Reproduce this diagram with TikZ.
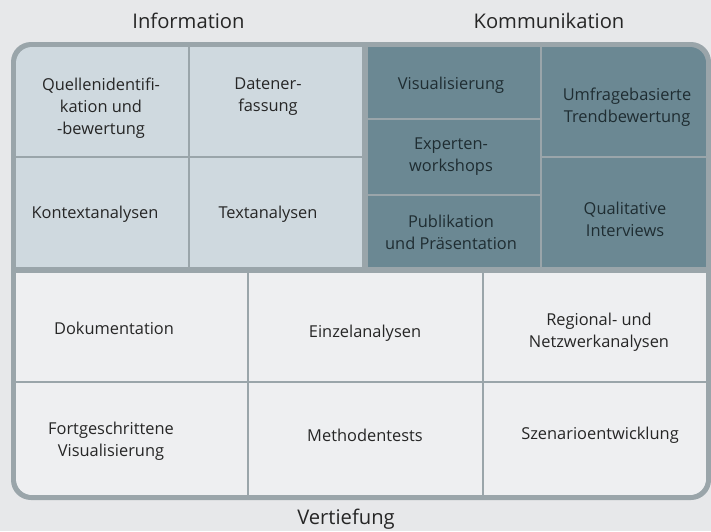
\documentclass[tikz,border=0pt]{standalone}
\usepackage{fontspec}
\setmainfont{Open Sans}
\usetikzlibrary{positioning}
\definecolor{bggray}{HTML}{E7E8EA}
\definecolor{framegray}{HTML}{9AA5AA}
\definecolor{infofill}{HTML}{CFD9DF}
\definecolor{kommfill}{HTML}{6B8893}
\definecolor{tieffill}{HTML}{EEEFF1}
\definecolor{textgray}{HTML}{262626}
\definecolor{darktext}{HTML}{1F2D32}
\begin{document}
\begin{tikzpicture}[x=1pt,y=-1pt,
  txt/.style={align=center,font=\fontsize{16.4}{22}\selectfont,text=textgray,inner sep=0pt},
  ktxt/.style={txt,text=darktext},
  head/.style={font=\fontsize{20.2}{22}\selectfont,text=textgray,inner sep=0pt}]
\fill[bggray] (0,0) rectangle (711,531);
\useasboundingbox (0,0) rectangle (711,531);
% frame and cells
\fill[framegray,rounded corners=20pt] (11,42) rectangle (711,500);
\begin{scope}
\clip[rounded corners=16pt] (16,47) rectangle (706,495);
% Information
\fill[infofill] (16,47) rectangle (188,156);
\fill[infofill] (190,47) rectangle (362,156);
\fill[infofill] (16,158) rectangle (188,267);
\fill[infofill] (190,158) rectangle (362,267);
% Kommunikation
\fill[kommfill] (368,47) rectangle (540,118);
\fill[kommfill] (368,120) rectangle (540,194);
\fill[kommfill] (368,196) rectangle (540,267);
\fill[kommfill] (542,47) rectangle (706,156);
\fill[kommfill] (542,158) rectangle (706,267);
% Vertiefung
\fill[tieffill] (16,273) rectangle (247,381);
\fill[tieffill] (249,273) rectangle (482,381);
\fill[tieffill] (484,273) rectangle (706,381);
\fill[tieffill] (16,383) rectangle (247,495);
\fill[tieffill] (249,383) rectangle (482,495);
\fill[tieffill] (484,383) rectangle (706,495);
\end{scope}
% headings
\node[head] (info) at (188.5,21) {Information};
\node[head] (komm) at (549,21) {Kommunikation};
\node[head] (tief) at (346,519) {Vertiefung};
% texts
\node[txt] (quellen) at (101,108) {Quellenidentifi-\\kation und\\-bewertung};
\node[txt] (daten) at (268,97) {Datener-\\fassung};
\node[txt] (kontext) at (95,214) {Kontextanalysen};
\node[txt] (textan) at (268,214) {Textanalysen};
\node[ktxt] (visual) at (451,85) {Visualisierung};
\node[ktxt] (experten) at (451,157) {Experten-\\workshops};
\node[ktxt] (publik) at (451,232) {Publikation\\und Präsentation};
\node[ktxt] (umfrage) at (627,107) {Umfragebasierte\\Trendbewertung};
\node[ktxt] (qualit) at (625,219) {Qualitative\\Interviews};
\node[txt] (doku) at (114,328) {Dokumentation};
\node[txt] (einzel) at (365,333) {Einzelanalysen};
\node[txt] (regional) at (599,332) {Regional- und\\Netzwerkanalysen};
\node[txt] (fortg) at (111,441) {Fortgeschrittene\\Visualisierung};
\node[txt] (methoden) at (365,435) {Methodentests};
\node[txt] (szenario) at (600,435) {Szenarioentwicklung};
\end{tikzpicture}
\end{document}
